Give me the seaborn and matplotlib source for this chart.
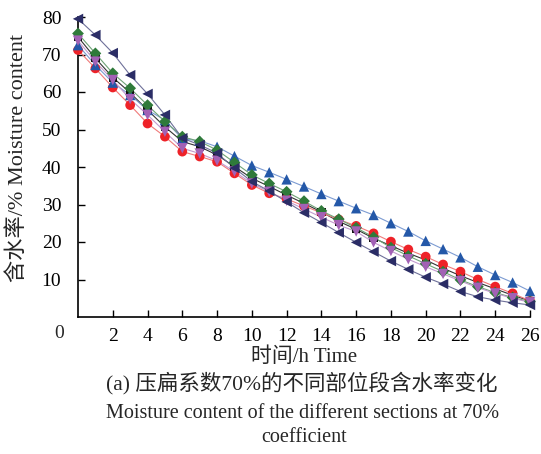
import numpy as np
import pandas as pd
import matplotlib
matplotlib.use("Agg")
import matplotlib.pyplot as plt
import seaborn as sns

# Drying time (h)
hours = list(range(27))

# Moisture content (%) of six sections
sec_square = [74.7, 69.0, 63.9, 59.8, 55.2, 50.7, 46.8, 45.4, 43.2, 40.1, 37.0, 34.8, 32.5, 30.3,
              28.0, 25.5, 23.4, 21.0, 19.0, 17.0, 15.2, 13.0, 11.0, 9.2, 7.5, 5.8, 4.3]
sec_circle = [71.2, 66.3, 61.2, 56.5, 51.6, 48.1, 44.1, 42.8, 41.4, 38.3, 35.2, 33.0, 31.5, 29.6,
              27.8, 26.0, 24.3, 22.3, 20.1, 18.0, 16.1, 14.0, 12.1, 10.0, 8.1, 6.3, 4.3]
sec_triangle_up = [72.5, 67.2, 62.5, 59.2, 55.2, 52.5, 47.5, 47.0, 45.4, 42.9, 40.4, 38.6, 36.7, 34.8,
                   32.8, 30.9, 29.0, 27.2, 25.0, 22.8, 20.3, 18.1, 15.9, 13.4, 11.2, 9.2, 6.9]
sec_diamond = [75.6, 70.3, 65.0, 61.0, 56.5, 52.1, 48.1, 46.8, 44.5, 41.2, 37.9, 35.6, 33.4, 30.9,
               28.3, 26.1, 23.8, 21.3, 18.5, 16.3, 14.2, 12.1, 9.9, 8.1, 6.5, 5.2, 4.1]
sec_triangle_down = [73.7, 68.1, 63.2, 58.1, 53.9, 49.4, 45.0, 43.6, 41.7, 38.8, 35.6, 33.4, 31.0, 28.8,
                     26.6, 24.5, 22.8, 19.9, 17.6, 15.4, 13.4, 11.5, 9.6, 7.8, 6.3, 5.0, 3.9]
sec_triangle_left = [79.5, 75.2, 70.4, 64.5, 59.5, 53.9, 47.7, 45.9, 43.7, 39.7, 36.1, 33.6, 30.7, 27.8,
                     25.2, 22.5, 19.9, 17.4, 14.9, 12.7, 10.6, 8.8, 6.8, 5.4, 4.5, 3.8, 3.2]

x_ticks = [2, 4, 6, 8, 10, 12, 14, 16, 18, 20, 22, 24, 26]
y_ticks = [10, 20, 30, 40, 50, 60, 70, 80]

series = [
    ("s1", sec_square, "s", "#111111", "#333333"),
    ("s2", sec_circle, "o", "#EE2228", "#F07A7A"),
    ("s3", sec_triangle_up, "^", "#2458A8", "#7C9BD2"),
    ("s4", sec_diamond, "D", "#2F7A3A", "#6FA377"),
    ("s5", sec_triangle_down, "v", "#A261B5", "#C39ACF"),
    ("s6", sec_triangle_left, "<", "#2B2D66", "#6E7099"),
]

sns.set_theme(style="ticks")
plt.rcParams["font.family"] = ["Liberation Serif", "Noto Sans CJK SC"]
plt.rcParams["axes.unicode_minus"] = False

fig = plt.figure(figsize=(5.41, 4.54), dpi=100)
ax = fig.add_axes([78 / 541, 1 - 317 / 454, 452 / 541, 300 / 454])

sizes = {"s": 6, "o": 7, "^": 7.5, "D": 6, "v": 7.5, "<": 7.5}
for name, vals, mk, mc, lc in series:
    df = pd.DataFrame({"t": hours, "m": vals})
    sns.lineplot(data=df, x="t", y="m", ax=ax, color=lc, linewidth=0.8,
                 marker=None, legend=False, clip_on=False)
    sns.scatterplot(data=df, x="t", y="m", ax=ax, marker=mk, color=mc,
                    s=sizes[mk] ** 2, edgecolor="none", legend=False,
                    clip_on=False, zorder=3)

ax.set_xlim(0, 26)
ax.set_ylim(0, 80)
ax.set_xticks(x_ticks)
ax.set_yticks(y_ticks)
ax.tick_params(direction="in", length=5, width=1.0, labelsize=14, colors="black")
ax.tick_params(axis="x", pad=8)
ax.tick_params(axis="y", pad=12)
for sp in ["top", "right"]:
    ax.spines[sp].set_visible(False)
for sp in ["left", "bottom"]:
    ax.spines[sp].set_linewidth(1.2)
    ax.spines[sp].set_color("black")

ax.set_xlabel("")
ax.set_ylabel("")
# shared origin label
fig.text(59 / 541, 1 - 334 / 454, "0", ha="center", va="center", fontsize=14)

fig.text(18 / 541, 1 - 158 / 454, "含水率/% Moisture content", rotation=90,
         ha="center", va="center", fontsize=16)
fig.text(304 / 541, 1 - 357 / 454, "时间/h Time", ha="center", va="center", fontsize=15)
fig.text(302 / 541, 1 - 383 / 454, "(a) 压扁系数70%的不同部位段含水率变化",
         ha="center", va="center", fontsize=15.5)
fig.text(303 / 541, 1 - 413 / 454, "Moisture content of the different sections at 70%",
         ha="center", va="center", fontsize=14.5)
fig.text(304 / 541, 1 - 438 / 454, "coefficient", ha="center", va="center", fontsize=14.5)

fig.savefig("out.png", dpi=100)
